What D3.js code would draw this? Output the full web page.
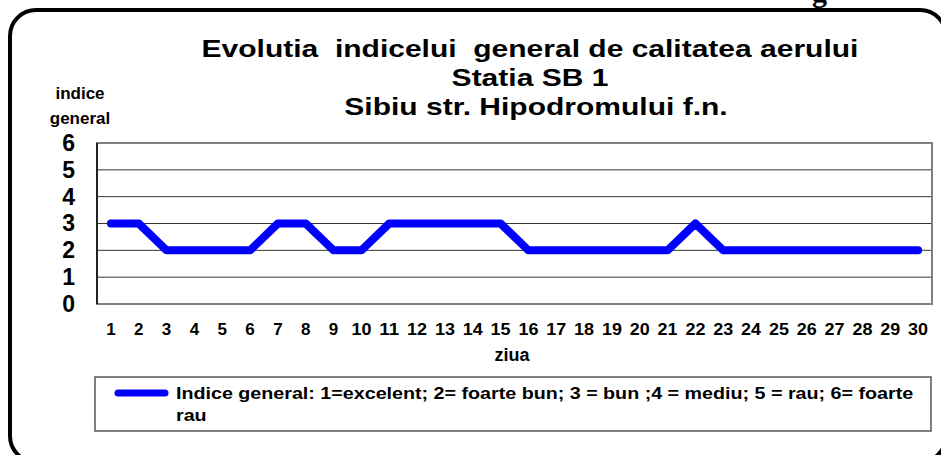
<html>
<head>
  <script src="https://d3js.org/d3.v7.min.js"></script>
  <style>
  body { margin: 0; background: #fff; }
  svg { display: block; font-family: "Liberation Sans", Arial, sans-serif; }
  </style>
</head>
<body>
  <svg width="941" height="455"></svg>

<script>
// ziua (day) and indice general values
var days = d3.range(1, 31);
var indice = [3,3,2,2,2,2,3,3,2,2,3,3,3,3,3,2,2,2,2,2,2,3,2,2,2,2,2,2,2,2];
var yTicks = [0,1,2,3,4,5,6];
var titleLines = ["Evolutia  indicelui  general de calitatea aerului", "Statia SB 1", "Sibiu str. Hipodromului f.n."];
var legendText = ["Indice general: 1=excelent; 2= foarte bun; 3 = bun ;4 = mediu; 5 = rau; 6= foarte", "rau"];

var svg = d3.select("svg");

// the original is stretched sideways
function stretch(sel, k) {
  sel.each(function(){
    var len = this.getComputedTextLength();
    d3.select(this).attr("textLength", len * k).attr("lengthAdjust", "spacingAndGlyphs");
  });
}

// outer rounded frame
svg.append("rect")
  .attr("x", 10).attr("y", 10)
  .attr("width", 936).attr("height", 452)
  .attr("rx", 26).attr("ry", 26)
  .attr("fill", "none").attr("stroke", "#000").attr("stroke-width", 4);

// stray glyph cut off at top
svg.append("text").attr("x", 812).attr("y", 2)
  .attr("font-family", "Liberation Serif").attr("font-size", 30).attr("font-weight", "bold")
  .text("g");

var pLeft = 97, pRight = 932, pTop = 143, pBottom = 304;

var x = d3.scaleBand().domain(days).range([pLeft, pRight]);
var y = d3.scaleLinear().domain([0, 6]).range([pBottom, pTop]);

// gridlines
svg.append("g").selectAll("line").data(yTicks.slice(1, 6)).enter().append("line")
  .attr("x1", pLeft).attr("x2", pRight)
  .attr("y1", function(d){ return y(d); }).attr("y2", function(d){ return y(d); })
  .attr("stroke", "#333").attr("stroke-width", 1);

// plot frame
svg.append("rect").attr("x", pLeft).attr("y", pTop)
  .attr("width", pRight - pLeft).attr("height", pBottom - pTop)
  .attr("fill", "none").attr("stroke", "#808080").attr("stroke-width", 2);
svg.append("line").attr("x1", pLeft).attr("x2", pLeft).attr("y1", pTop).attr("y2", pBottom)
  .attr("stroke", "#222").attr("stroke-width", 2);

// y axis labels
var yAxis = d3.axisLeft(y).tickValues(yTicks).tickFormat(d3.format("d")).tickSize(0).tickPadding(22);
var ya = svg.append("g").attr("transform", "translate(" + pLeft + ",0)").call(yAxis);
ya.select(".domain").remove();
ya.selectAll("text").attr("font-size", 23).attr("font-weight", "bold").attr("fill", "#000")
  .attr("font-family", "Liberation Sans");

// x axis labels
var xAxis = d3.axisBottom(x).tickSize(0).tickPadding(19);
var xa = svg.append("g").attr("transform", "translate(0," + pBottom + ")").call(xAxis);
xa.select(".domain").remove();
xa.selectAll("text").attr("font-size", 17).attr("font-weight", "bold").attr("fill", "#000")
  .attr("font-family", "Liberation Sans");
xa.selectAll("text").filter(function(d){ return d >= 10; })
  .attr("textLength", 20).attr("lengthAdjust", "spacingAndGlyphs");

// series line
var line = d3.line()
  .x(function(d, i){ return x(days[i]) + x.bandwidth() / 2; })
  .y(function(d){ return y(d); });
svg.append("path").datum(indice)
  .attr("d", line)
  .attr("fill", "none").attr("stroke", "#0000ff").attr("stroke-width", 8)
  .attr("stroke-linecap", "round").attr("stroke-linejoin", "round");

// titles
var titles = svg.selectAll("text.title").data(titleLines).enter().append("text")
  .attr("class", "title")
  .attr("x", function(d, i){ return i == 2 ? 536 : 530; })
  .attr("y", function(d, i){ return 57 + i * 29; })
  .attr("text-anchor", "middle")
  .attr("font-size", 24).attr("font-weight", "bold")
  .style("white-space", "pre")
  .text(function(d){ return d; });
stretch(titles, 1.25);

// y axis title
svg.append("text").attr("x", 80).attr("y", 99).attr("text-anchor", "middle")
  .attr("font-size", 17).attr("font-weight", "bold").text("indice");
svg.append("text").attr("x", 80).attr("y", 124).attr("text-anchor", "middle")
  .attr("font-size", 17).attr("font-weight", "bold").text("general");

// x axis title
svg.append("text").attr("x", 512).attr("y", 361).attr("text-anchor", "middle")
  .attr("font-size", 18).attr("font-weight", "bold").text("ziua");

// legend
svg.append("rect").attr("x", 95).attr("y", 377).attr("width", 836).attr("height", 54)
  .attr("fill", "#fff").attr("stroke", "#555").attr("stroke-width", 1.5);
svg.append("line").attr("x1", 118).attr("x2", 165).attr("y1", 393).attr("y2", 393)
  .attr("stroke", "#0000ff").attr("stroke-width", 7).attr("stroke-linecap", "round");
var leg = svg.selectAll("text.leg").data(legendText).enter().append("text")
  .attr("class", "leg")
  .attr("x", 176).attr("y", function(d, i){ return 399 + i * 22; })
  .attr("font-size", 16).attr("font-weight", "bold")
  .text(function(d){ return d; });
stretch(leg, 1.23);
</script>
</body></html>
